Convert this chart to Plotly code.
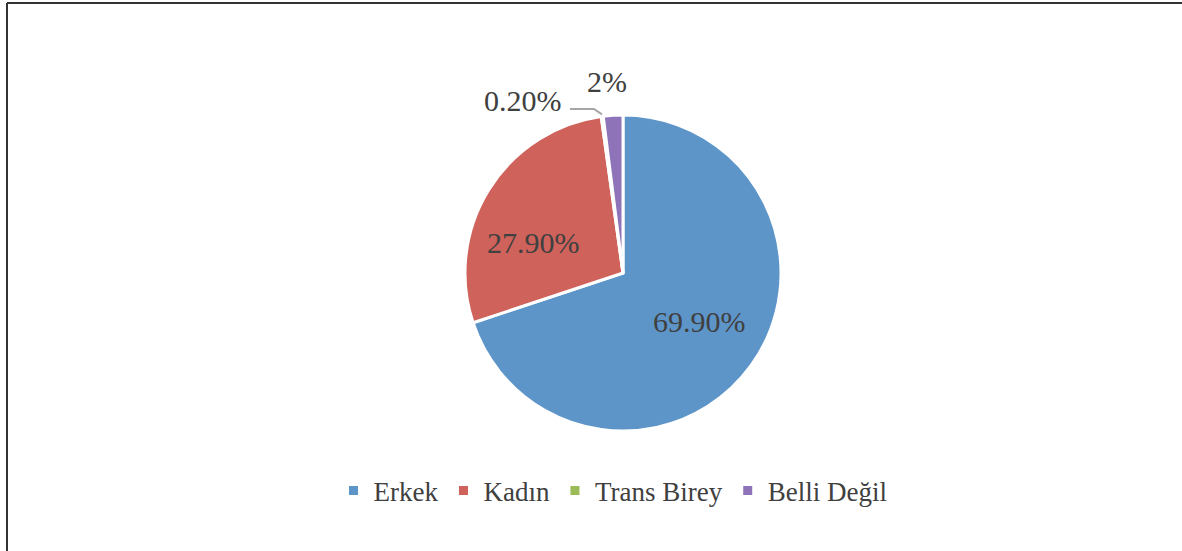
import math
import plotly.graph_objects as go

categories = ["Erkek", "Kadın", "Trans Birey", "Belli Değil"]
values = [69.9, 27.9, 0.2, 2.0]
label_texts = ["69.90%", "27.90%", "0.20%", "2%"]
colors = ["#5D95C9", "#CF625B", "#9BBB59", "#8E73B9"]

W, H = 1182, 551
cx, cy, R = 623, 273, 158


def px(x):
    return x / W


def py(y):
    return 1 - y / H


fig = go.Figure()
fig.add_trace(go.Pie(
    labels=categories,
    values=values,
    sort=False,
    direction="clockwise",
    rotation=0,
    marker=dict(colors=colors, line=dict(color="white", width=3)),
    textinfo="none",
    hoverinfo="label+percent",
    domain=dict(x=[px(cx - R), px(cx + R)], y=[py(cy + R), py(cy - R)]),
))

# label placements (pixel centres)
label_pos = [(699, 321), (533, 243), (523, 100), (607, 81)]
font_lbl = dict(family="Liberation Serif, Times New Roman, serif", size=30, color="#404040")
for t, (lx, ly) in zip(label_texts, label_pos):
    fig.add_annotation(x=px(lx), y=py(ly), xref="paper", yref="paper", text=t,
                       showarrow=False, font=font_lbl, xanchor="center", yanchor="middle")

# leader line for the small "Trans Birey" slice, ending at the slice edge
cum = sum(values[:2]) + values[2] / 2
ang = cum / sum(values) * 2 * math.pi
ex, ey = cx + (R + 2) * math.sin(ang), cy - (R + 2) * math.cos(ang)
fig.add_shape(type="path", xref="paper", yref="paper",
              path=f"M {px(570)},{py(109)} L {px(594)},{py(109)} L {px(ex)},{py(ey)}",
              line=dict(color="#A6A6A6", width=2))

# frame lines (top and left)
fig.add_shape(type="line", xref="paper", yref="paper", x0=px(7), y0=py(3), x1=1, y1=py(3),
              line=dict(color="#333333", width=2))
fig.add_shape(type="line", xref="paper", yref="paper", x0=px(7), y0=py(3), x1=px(7), y1=0,
              line=dict(color="#333333", width=2))

fig.update_layout(
    width=W, height=H,
    margin=dict(l=0, r=0, t=0, b=0),
    paper_bgcolor="white",
    plot_bgcolor="white",
    showlegend=True,
    legend=dict(orientation="h", x=px(613), y=py(491), xanchor="center", yanchor="middle",
                font=dict(family="Liberation Serif, Times New Roman, serif", size=27, color="#404040"),
                itemwidth=30, traceorder="normal"),
)

fig.write_html("out.html",
               config={"displayModeBar": False},
               post_script="document.body.style.margin='0';document.body.style.padding='0';"
                           "document.body.style.overflow='hidden';")
